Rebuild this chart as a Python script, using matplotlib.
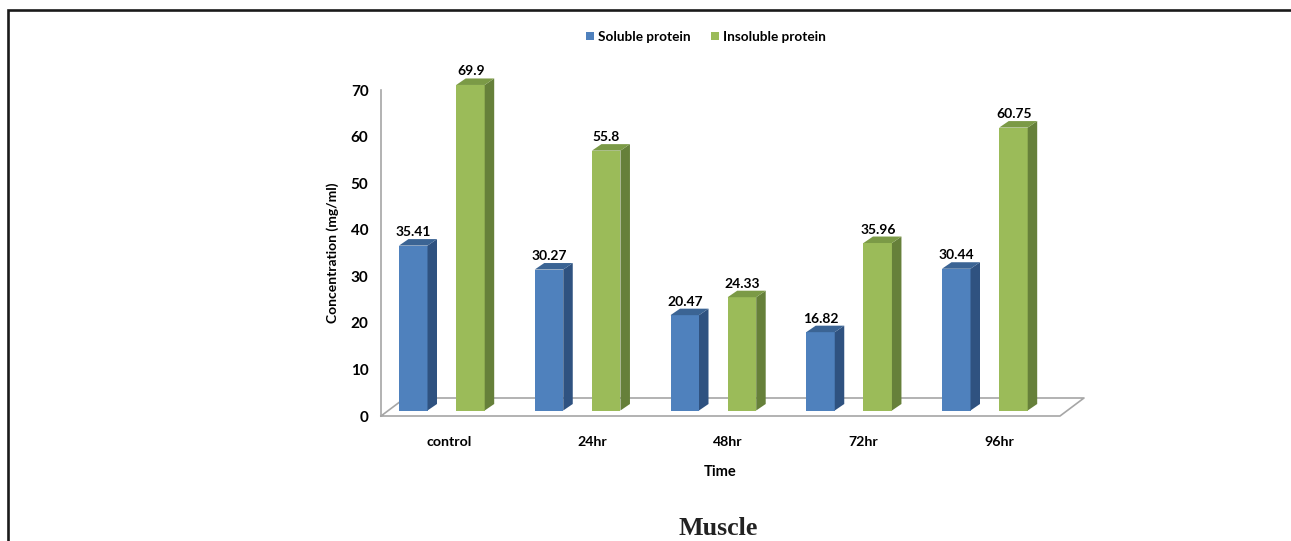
import matplotlib
matplotlib.use('Agg')
import numpy as np
import matplotlib.pyplot as plt
from matplotlib.patches import Patch, Polygon

categories = ['control', '24hr', '48hr', '72hr', '96hr']
soluble = [35.41, 30.27, 20.47, 16.82, 30.44]
insoluble = [69.9, 55.8, 24.33, 35.96, 60.75]
soluble_labels = ['35.41', '30.27', '20.47', '16.82', '30.44']
insoluble_labels = ['69.9', '55.8', '24.33', '35.96', '60.75']
y_ticks = [0, 10, 20, 30, 40, 50, 60, 70]

W, H = 1291, 541
GROUP_PX = 135.75
Y_PX = 326 / 70
BAR_PX = 28.5
GAP_PX = 57.2
DEPTH_X = 9.5
DEPTH_Y = 6.5
LIFT_PX = 5.5

BLUE = ('#4F81BD', '#2F5280', '#3B6494')
GREEN = ('#9BBB59', '#66803A', '#7B9A46')
GREY = '#A6A6A6'
TEXT = '#000000'

plt.rcParams['font.family'] = ['Lato', 'DejaVu Sans']
plt.rcParams['font.weight'] = 'bold'


def draw_bar(ax, left, value, colors):
    dx = DEPTH_X / GROUP_PX
    dy = DEPTH_Y / Y_PX
    width = BAR_PX / GROUP_PX
    lift = LIFT_PX / Y_PX
    right = left + width
    top = lift + value
    ax.bar(left, value, width, bottom=lift, align='edge', color=colors[0], zorder=3, clip_on=False)
    ax.add_patch(Polygon([(right, lift), (right + dx, lift + dy), (right + dx, top + dy), (right, top)],
                         closed=True, facecolor=colors[1], edgecolor='none', zorder=3, clip_on=False))
    ax.add_patch(Polygon([(left, top), (left + dx, top + dy), (right + dx, top + dy), (right, top)],
                         closed=True, facecolor=colors[2], edgecolor='none', zorder=3, clip_on=False))
    return left + (width + dx) / 2, top + dy


fig = plt.figure(figsize=(W / 100, H / 100), dpi=100, facecolor='white')

# outer frame, only left and top are on the page
fig.add_artist(plt.Line2D([7.5 / W, 7.5 / W, 1],
                          [0, 1 - 9.5 / H, 1 - 9.5 / H],
                          color='#1a1a1a', lw=1.9, solid_joinstyle='miter'))

ax = fig.add_axes([381 / W, 1 - 416 / H, (1084 - 381) / W, 326 / H])
ax.set_xlim((381 - 399) / GROUP_PX, (1084 - 399) / GROUP_PX)
ax.set_ylim(0, 70)
ax.patch.set_alpha(0)

x = np.arange(len(categories))
for i in x:
    cx, cy = draw_bar(ax, i, soluble[i], BLUE)
    ax.text(cx - 4.5 / GROUP_PX, cy + 1 / Y_PX, soluble_labels[i], ha='center', va='bottom',
            fontsize=10, color=TEXT, zorder=5)
    cx, cy = draw_bar(ax, i + GAP_PX / GROUP_PX, insoluble[i], GREEN)
    ax.text(cx - 4.5 / GROUP_PX, cy + 1 / Y_PX, insoluble_labels[i], ha='center', va='bottom',
            fontsize=10, color=TEXT, zorder=5)

# floor of the 3d box
floor_y = 18 / Y_PX
x_left = ax.get_xlim()[0]
x_right = ax.get_xlim()[1]
slant = 24 / GROUP_PX
ax.plot([x_left, x_left + slant, x_right, x_right - slant, x_left],
        [0, floor_y, floor_y, 0, 0], color=GREY, lw=1.2, zorder=1, clip_on=False)

for side in ['top', 'right', 'bottom']:
    ax.spines[side].set_visible(False)
ax.spines['left'].set_color(GREY)
ax.spines['left'].set_linewidth(1.2)

ax.set_yticks(y_ticks)
ax.tick_params(axis='y', length=0, pad=9, labelsize=11, labelcolor=TEXT)
label_pos = (x + GAP_PX / GROUP_PX).astype(float)
label_pos[0] -= 7 / GROUP_PX
ax.set_xticks(label_pos)
ax.set_xticklabels(categories)
ax.tick_params(axis='x', length=0, pad=14.7, labelsize=10.2, labelcolor=TEXT)

fig.text(332.5 / W, 1 - 253 / H, 'Concentration (mg/ml)', rotation=90, ha='center', va='center',
         fontsize=10, color=TEXT)
fig.text(720 / W, 1 - 471.5 / H, 'Time', ha='center', va='center', fontsize=10.5, color=TEXT)
fig.text(718 / W, 1 - 535 / H, 'Muscle', ha='center', va='baseline', fontsize=18.7,
         family='Liberation Serif', fontweight='bold', color='#222222')

handles = [Patch(facecolor=BLUE[0], label='Soluble protein'),
           Patch(facecolor=GREEN[0], label='Insoluble protein')]
fig.legend(handles=handles, loc='center', bbox_to_anchor=(706 / W, 1 - 37 / H), ncol=2, frameon=False,
           fontsize=9.8, handlelength=0.58, handleheight=0.58, handletextpad=0.3, columnspacing=1.5,
           labelcolor=TEXT)

fig.savefig('out.png', dpi=100)
